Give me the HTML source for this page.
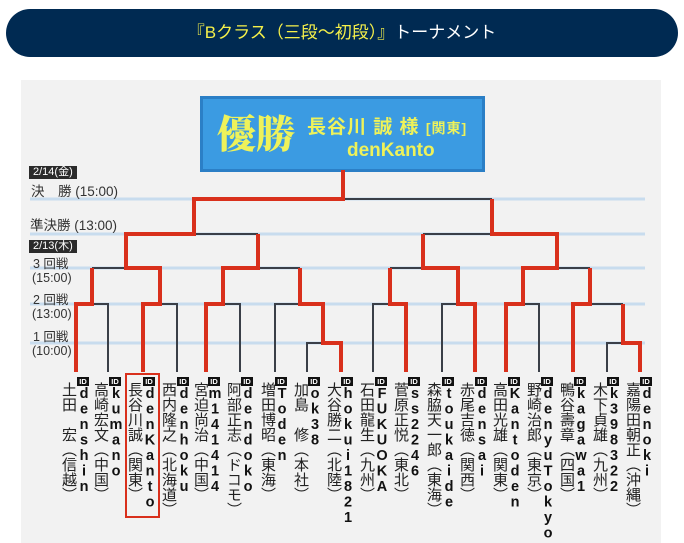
<!DOCTYPE html>
<html><head><meta charset="utf-8">
<style>
body{margin:0;width:684px;height:543px;background:#fff;position:relative;overflow:hidden;font-family:"Liberation Sans","Noto Sans CJK JP",sans-serif;}
.hdr{position:absolute;left:6px;top:9px;width:672px;height:48px;border-radius:24px;background:#002a52;color:#fff;font-size:17px;line-height:48px;text-align:center;}
.hdr span{color:#f5f04a}
.panel{position:absolute;left:21px;top:80px;width:640px;height:463px;background:#f2f2f2;}
.champ{position:absolute;left:200px;top:96px;width:279px;height:70px;background:#3b9be2;border:3px solid #2b7fc6;color:#eef25a;font-weight:bold;}
.lab{position:absolute;font-size:12.5px;color:#333;white-space:nowrap;line-height:14px}
.date{position:absolute;background:#2b2b2b;color:#fff;font-size:11px;line-height:13px;padding:0 4px;}
.nm{position:absolute;top:382px;writing-mode:vertical-rl;font-size:15px;line-height:15px;color:#222;white-space:nowrap;}
.idb{position:absolute;top:377px;width:12px;height:9px;background:#111;color:#fff;font-size:7.5px;font-weight:bold;line-height:9px;text-align:center;}
.id{position:absolute;top:386px;writing-mode:vertical-rl;text-orientation:upright;font-size:14.5px;line-height:13px;font-weight:bold;color:#111;white-space:nowrap;letter-spacing:-0.5px}
</style></head><body>
<div class="hdr"><span>『Bクラス（三段〜初段）』</span>トーナメント</div>
<div class="panel"></div>
<div class="champ">
 <div style="position:absolute;left:14px;top:8px;font-size:39px;line-height:50px;font-family:'Noto Serif CJK SC',serif;font-weight:900;">優勝</div>
 <div style="position:absolute;left:104px;top:13px;font-size:19px;white-space:nowrap;letter-spacing:1px;">長谷川 誠 様 <span style="font-size:14px">[関東]</span></div>
 <div style="position:absolute;left:144px;top:41px;font-size:19px;">denKanto</div>
</div>
<svg style="position:absolute;left:0;top:0" width="684" height="543">
<g stroke="#c8dcee" stroke-width="3">
<line x1="30" x2="645" y1="199" y2="199"/><line x1="30" x2="645" y1="234" y2="234"/>
<line x1="30" x2="645" y1="268" y2="268"/><line x1="30" x2="645" y1="304" y2="304"/>
<line x1="30" x2="645" y1="343" y2="343"/>
</g>
<g stroke="#3a3f48" stroke-width="2" fill="none">
<path d="M108,372V304H92"/><path d="M177,372V304H160"/><path d="M240,372V304H223"/>
<path d="M275,372V304H300"/><path d="M307,372V343H323"/><path d="M373,372V304H390"/>
<path d="M442,372V304H458"/><path d="M539,372V304H523"/><path d="M607,372V343H623"/>
<path d="M623,304H590"/><path d="M92,268H126"/><path d="M300,268H258"/>
<path d="M390,268H423"/><path d="M590,268H557"/><path d="M258,234H194"/>
<path d="M423,234H492"/><path d="M343,199H492"/>
</g>
<g stroke="#d9301c" stroke-width="4" fill="none" stroke-linejoin="miter">
<path d="M76,372V304H92V268"/>
<path d="M143,372V304H160V268H126V234H194V199H343V170"/>
<path d="M206,372V304H223V268H258V234"/>
<path d="M341,372V343H323V304H300V268"/>
<path d="M406,372V304H390V268"/>
<path d="M475,372V304H458V268H423V234"/>
<path d="M506,372V304H523V268H557V234H492V199"/>
<path d="M573,372V304H590V268"/>
<path d="M640,372V343H623V304"/>
</g>
<rect x="126" y="374" width="33" height="143" fill="none" stroke="#d9301c" stroke-width="2"/>
</svg>
<div class="date" style="left:29px;top:166px">2/14(金)</div>
<div class="lab" style="left:31px;top:185px;font-size:13.5px">決　勝 (15:00)</div>
<div class="lab" style="left:30px;top:219px;font-size:13.5px">準決勝 (13:00)</div>
<div class="date" style="left:29px;top:240px">2/13(木)</div>
<div class="lab" style="left:33px;top:257px">3 回戦</div>
<div class="lab" style="left:32px;top:271px">(15:00)</div>
<div class="lab" style="left:33px;top:293px">2 回戦</div>
<div class="lab" style="left:32px;top:307px">(13:00)</div>
<div class="lab" style="left:33px;top:330px">1 回戦</div>
<div class="lab" style="left:32px;top:344px">(10:00)</div>

<div class="nm" style="left:61px">土田　宏（信越）</div><div class="idb" style="left:77px">ID</div><div class="id" style="left:77px">denshin</div>
<div class="nm" style="left:93px">高崎宏文（中国）</div><div class="idb" style="left:109px">ID</div><div class="id" style="left:109px">kumano</div>
<div class="nm" style="left:127px">長谷川誠（関東）</div><div class="idb" style="left:143px">ID</div><div class="id" style="left:143px">denKanto</div>
<div class="nm" style="left:161px">西内隆之（北海道）</div><div class="idb" style="left:177px">ID</div><div class="id" style="left:177px">denhoku</div>
<div class="nm" style="left:193px">宮迫尚治（中国）</div><div class="idb" style="left:208px">ID</div><div class="id" style="left:208px">m141414</div>
<div class="nm" style="left:226px">阿部正志（ドコモ）</div><div class="idb" style="left:241px">ID</div><div class="id" style="left:241px">dendoko</div>
<div class="nm" style="left:260px">増田博昭（東海）</div><div class="idb" style="left:275px">ID</div><div class="id" style="left:275px">Toden</div>
<div class="nm" style="left:293px">加島　修（本社）</div><div class="idb" style="left:308px">ID</div><div class="id" style="left:308px">ok38</div>
<div class="nm" style="left:326px">大谷勝二（北陸）</div><div class="idb" style="left:341px">ID</div><div class="id" style="left:341px">hokui1821</div>
<div class="nm" style="left:359px">石田龍生（九州）</div><div class="idb" style="left:375px">ID</div><div class="id" style="left:375px">FUKUOKA</div>
<div class="nm" style="left:393px">菅原正悦（東北）</div><div class="idb" style="left:408px">ID</div><div class="id" style="left:408px">ss2246</div>
<div class="nm" style="left:426px">森脇天一郎（東海）</div><div class="idb" style="left:442px">ID</div><div class="id" style="left:442px">toukaide</div>
<div class="nm" style="left:459px">赤尾吉徳（関西）</div><div class="idb" style="left:475px">ID</div><div class="id" style="left:475px">densai</div>
<div class="nm" style="left:492px">高田光雄（関東）</div><div class="idb" style="left:508px">ID</div><div class="id" style="left:508px">Kantoden</div>
<div class="nm" style="left:526px">野崎治郎（東京）</div><div class="idb" style="left:541px">ID</div><div class="id" style="left:541px">denyuTokyo</div>
<div class="nm" style="left:559px">鴨谷壽章（四国）</div><div class="idb" style="left:574px">ID</div><div class="id" style="left:574px">kagawa1</div>
<div class="nm" style="left:592px">木下貞雄（九州）</div><div class="idb" style="left:607px">ID</div><div class="id" style="left:607px">k398322</div>
<div class="nm" style="left:625px">嘉陽田朝正（沖縄）</div><div class="idb" style="left:640px">ID</div><div class="id" style="left:640px">denoki</div>
</body></html>
